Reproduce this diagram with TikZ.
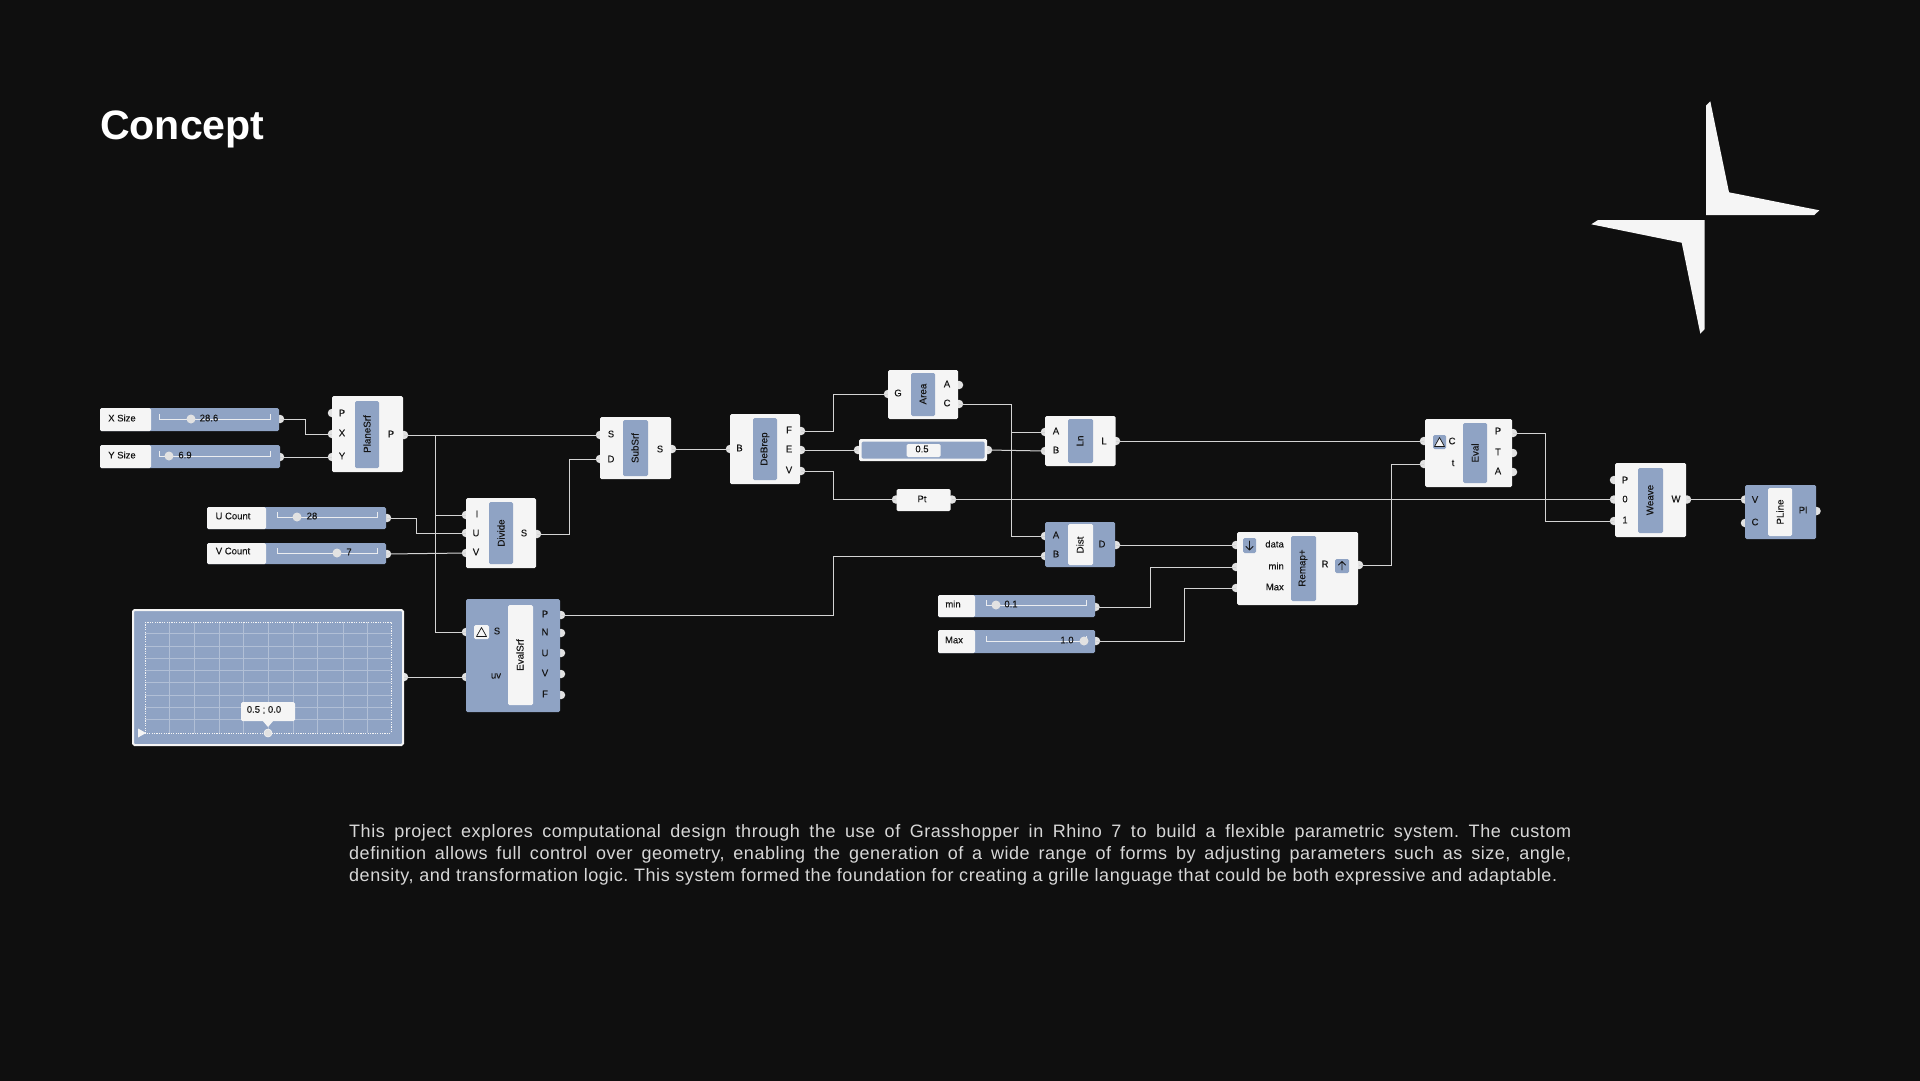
\documentclass[tikz,border=0pt]{standalone}
\usepackage{fontspec}
\setmainfont{Liberation Sans}
\newfontfamily\medfont[FakeBold=0.25]{Liberation Sans}
\newfontfamily\lightmed[FakeBold=0.12]{Liberation Sans}
\newfontfamily\bodyfont[LetterSpace=3]{Liberation Sans}
\newcommand\bodyline[2]{\hbox to #1{\frenchspacing\spaceskip=5.5pt plus 1fil minus 1fil\relax #2}}
\definecolor{bgc}{HTML}{0F0F0F}
\definecolor{paper}{HTML}{F5F5F5}
\definecolor{steel}{HTML}{8FA3C4}
\definecolor{ink}{HTML}{161616}
\definecolor{wirec}{HTML}{D4D4D4}
\definecolor{portc}{HTML}{E2E2E2}
\tikzset{
 x=1pt,y=-1pt,
 wire/.style={draw=wirec,line width=1pt},
 portdot/.style={circle,fill=portc,draw=none,minimum size=8.5pt,inner sep=0pt,outer sep=0pt},
 block/.style={rectangle,rounded corners=1.5pt,inner sep=0pt,outer sep=0pt,draw=none},
 lightblock/.style={block,fill=paper},
 darkblock/.style={block,fill=steel},
 lbl/.style={font=\lightmed\fontsize{9.5}{10}\selectfont,text=ink,inner sep=0pt},
 vlbl/.style={font=\medfont\fontsize{9.8}{10}\selectfont,text=ink,inner sep=0pt,rotate=90},
 track/.style={draw=paper!90!steel,line width=1pt},
 knob/.style={circle,fill=portc,draw=none,minimum size=9pt,inner sep=0pt},
 gridl/.style={draw=white!30!steel,line width=.6pt},
 iconbox/.style={block,fill=steel},
}
% \bx{name}{x1}{y1}{x2}{y2}{style}
\newcommand\bx[6]{\node[#6,minimum width={(#4-#2)*1pt},minimum height={(#5-#3)*1pt}] (#1) at ({(#2+#4)/2},{(#3+#5)/2}) {};}
\newcommand\prt[3]{\node[portdot] (#1) at (#2,#3) {};}
\newcommand\lb[4][lbl]{\node[#1] (#2) at (#3) {#4};}
\newcommand\hvh[3]{\coordinate (xm) at (#3,0); \draw[wire] (#1.center) -- (#1.center -| xm) -- (#2.center -| xm) -- (#2.center);}
% slider furniture: {name}{x1}{x2}{y}{knobx}{textx}{text}
\newcommand\sld[7]{
 \coordinate (#1l) at (#2,#4); \coordinate (#1r) at (#3,#4);
 \draw[track] (#2,#4-5) -- (#1l) -- (#1r) -- (#3,#4-5);
 \node[knob] (#1k) at (#5,#4) {};
 \node[lbl] (#1t) at (#6,#4-1) {#7};}
\begin{document}
\begin{tikzpicture}
\useasboundingbox (0,0) rectangle (1920,1080);
\fill[bgc] (-3,-3) rectangle (1923,1083);

\node[anchor=base west,inner sep=0pt,text=white,font=\bfseries\fontsize{41.1}{44}\selectfont] (title) at (100,139) {Concept};

% logo
\fill[paper] (1706,105.7) -- (1710.3,101.3) -- (1729,192.3) -- (1819.3,210.3) -- (1814.3,215) -- (1706,215) -- cycle;
\fill[paper] (1704.7,220) -- (1598,220) -- (1591.3,224.3) -- (1681.7,242.7) -- (1700.3,333.7) -- (1704.7,329) -- cycle;

% ports
\prt{xo}{280}{419}\prt{yo}{280}{457}\prt{uo}{387}{518}\prt{vo}{387}{554}
\prt{pP}{332}{413}\prt{pX}{332}{434}\prt{pY}{332}{457}\prt{pO}{404}{435}
\prt{dI}{466}{515}\prt{dU}{466}{533}\prt{dV}{466}{553}\prt{dO}{537}{534}
\prt{mdO}{404}{677}
\prt{eS}{466}{632}\prt{eUV}{466}{677}
\prt{eP}{561}{615}\prt{eN}{561}{633}\prt{eU}{561}{653}\prt{eV}{561}{674}\prt{eF}{561}{695}
\prt{sS}{600}{435}\prt{sD}{600}{459}\prt{sO}{672}{449}
\prt{bB}{730}{449}\prt{bF}{801}{431}\prt{bE}{801}{450}\prt{bV}{801}{471}
\prt{aG}{888}{394}\prt{aA}{959}{385}\prt{aC}{959}{404}
\prt{nI}{858}{450}\prt{nO}{988}{450}
\prt{tI}{896}{499.5}\prt{tO}{952}{499.5}
\prt{lA}{1045}{432}\prt{lB}{1045}{451}\prt{lO}{1116}{441}
\prt{tA}{1045}{536}\prt{tB}{1045}{556}\prt{tD}{1116}{545}
\prt{rD}{1236}{545}\prt{rMi}{1236}{567}\prt{rMa}{1236}{588}\prt{rO}{1359}{565}
\prt{mio}{1095.5}{607}\prt{mao}{1096}{641}
\prt{vC}{1424}{441}\prt{vT}{1424}{464}\prt{vP}{1513}{433}\prt{vTT}{1513}{453}\prt{vA}{1513}{472}
\prt{wP}{1614}{480}\prt{w0}{1614}{499.5}\prt{w1}{1614}{521}\prt{wO}{1687}{499.5}
\prt{qV}{1745}{499.5}\prt{qC}{1745}{523}\prt{qO}{1816.5}{511}

% wires
\hvh{xo}{pX}{305}
\draw[wire] (yo.center) -- (pY.center);
\draw[wire] (pO.center) -- (sS.center);
\coordinate (trunk) at (435,435);
\draw[wire] (trunk) -- (eS.center -| trunk) -- (eS.center);
\draw[wire] (dI.center -| trunk) -- (dI.center);
\hvh{uo}{dU}{416}
\draw[wire] (vo.center) -- (dV.center);
\hvh{dO}{sD}{569.5}
\draw[wire] (mdO.center) -- (eUV.center);
\draw[wire] (sO.center) -- (bB.center);
\hvh{bF}{aG}{833.5}
\draw[wire] (bE.center) -- (nI.center);
\hvh{bV}{tI}{833.5}
\draw[wire] (nO.center) -- (lB.center);
\hvh{aC}{tA}{1011.5}
\coordinate (cbus) at (1011.5,0);
\draw[wire] (lA.center -| cbus) -- (lA.center);
\draw[wire] (tO.center) -- (w0.center);
\hvh{eP}{tB}{833.5}
\draw[wire] (lO.center) -- (vC.center);
\draw[wire] (tD.center) -- (rD.center);
\hvh{mio}{rMi}{1150}
\hvh{mao}{rMa}{1184}
\hvh{rO}{vT}{1391}
\hvh{vP}{w1}{1545}
\draw[wire] (wO.center) -- (qV.center);

% sliders
\bx{xs}{100}{408}{279}{431}{darkblock}\bx{xsl}{100}{408}{151}{431}{lightblock}
\bx{ys}{100}{445}{280}{468}{darkblock}\bx{ysl}{100}{445}{151}{468}{lightblock}
\bx{us}{207}{507}{386}{529}{darkblock}\bx{usl}{207}{507}{266}{529}{lightblock}
\bx{vs}{207}{543}{386}{564}{darkblock}\bx{vsl}{207}{543}{266}{564}{lightblock}
\bx{mis}{938}{595}{1095}{617}{darkblock}\bx{misl}{938}{595}{975}{617}{lightblock}
\bx{mas}{938}{630}{1095}{653}{darkblock}\bx{masl}{938}{630}{975}{653}{lightblock}
\sld{sa}{159}{270}{419}{191}{209}{28.6}
\sld{sb}{159}{270}{456}{169}{185}{6.9}
\sld{sc}{277}{377}{517}{297}{312}{28}
\sld{sd}{277}{377}{553}{337}{349}{7}
\sld{se}{986}{1086}{605}{996}{1011}{0.1}
\sld{sf}{986}{1086}{641}{1084}{1067}{1.0}
\lb{xl}{122,418}{X Size}\lb{yl}{122,455}{Y Size}\lb{ul}{233,516}{U Count}\lb{vl}{233,551}{V Count}
\lb{mil}{953,604}{min}\lb{mal}{954,640}{Max}

% components
\bx{plane}{332}{396}{403}{472}{lightblock}\bx{planei}{355}{401}{379}{468}{darkblock}
\lb[vlbl]{planet}{367,434}{PlaneSrf}
\lb{p1}{342,413}{P}\lb{p2}{342,433}{X}\lb{p3}{342,456}{Y}\lb{p4}{391,434}{P}

\bx{div}{466}{498}{536}{568}{lightblock}\bx{divi}{489}{502}{513}{564}{darkblock}
\lb[vlbl]{divt}{501,533}{Divide}
\lb{d1}{477,514}{I}\lb{d2}{476,533}{U}\lb{d3}{476,552}{V}\lb{d4}{524,533}{S}

\bx{sub}{600}{417}{671}{479}{lightblock}\bx{subi}{623}{420}{648}{476}{darkblock}
\lb[vlbl]{subt}{635,448}{SubSrf}
\lb{s1}{611,434}{S}\lb{s2}{611,459}{D}\lb{s3}{660,449}{S}

\bx{deb}{730}{414}{800}{484}{lightblock}\bx{debi}{753}{418}{777}{480}{darkblock}
\lb[vlbl]{debt}{765,449}{DeBrep}
\lb{b1}{739.5,448}{B}\lb{b2}{789,430}{F}\lb{b3}{789,449}{E}\lb{b4}{789,470}{V}

\bx{area}{888}{370}{958}{419}{lightblock}\bx{areai}{911}{373}{935}{416}{darkblock}
\lb[vlbl]{areat}{923,394}{Area}
\lb{a1}{898,393}{G}\lb{a2}{947,384}{A}\lb{a3}{947,403}{C}

\bx{pan}{859}{439}{987}{461}{lightblock}\bx{pani}{861.5}{441.5}{984.5}{458.5}{darkblock}\bx{panv}{906.5}{444}{940.5}{457}{lightblock}
\lb{pant}{922,449}{0.5}

\bx{pt}{896.5}{489}{950.5}{511}{lightblock}
\lb{ptt}{922,499}{Pt}

\bx{ln}{1045}{416}{1115.5}{466}{lightblock}\bx{lni}{1068}{419}{1093}{463}{darkblock}
\lb[vlbl]{lnt}{1080,441}{Ln}
\lb{l1}{1056,431}{A}\lb{l2}{1056,450}{B}\lb{l3}{1104,441}{L}

\bx{dist}{1045}{522}{1115}{567}{darkblock}\bx{disti}{1068}{524}{1093}{565}{lightblock}
\lb[vlbl]{distt}{1080,545}{Dist}
\lb{t1}{1056,535}{A}\lb{t2}{1056,554}{B}\lb{t3}{1102,544}{D}

\bx{rem}{1237}{532}{1358}{605}{lightblock}\bx{remi}{1291}{536}{1316}{601}{darkblock}
\lb[vlbl]{remt}{1303,568}{Remap+}
\node[lbl,anchor=east] (r1) at (1284,544) {data};
\node[lbl,anchor=east] (r2) at (1284,566) {min};
\node[lbl,anchor=east] (r3) at (1284,587) {Max};
\lb{r4}{1325,564}{R}
\bx{ricd}{1243}{538}{1256}{553}{iconbox}\bx{ricu}{1335}{559}{1349}{573}{iconbox}
\draw[ink,line width=.9pt,line cap=round,line join=round] (1249.5,541) -- (1249.5,550) (1246,546.5) -- (1249.5,550) -- (1253,546.5);
\draw[ink,line width=.9pt,line cap=round,line join=round] (1342,570) -- (1342,561.5) (1338.5,565) -- (1342,561.5) -- (1345.5,565);

\bx{ev}{1425}{419}{1512}{487}{lightblock}\bx{evi}{1463}{423}{1487}{483}{darkblock}
\lb[vlbl]{evt}{1475,453}{Eval}
\bx{evc}{1433}{435}{1446}{449}{iconbox}
\draw[ink,fill=paper,line width=.7pt,line join=round] (1439.5,437.5) -- (1444.5,446.5) -- (1434.5,446.5) -- cycle;
\lb{v1}{1452,441}{C}\lb{v2}{1453,463}{t}\lb{v3}{1498,431}{P}\lb{v4}{1498,452}{T}\lb{v5}{1498,471}{A}

\bx{wea}{1615}{463}{1686}{537}{lightblock}\bx{weai}{1638}{468}{1663}{533}{darkblock}
\lb[vlbl]{weat}{1650,500}{Weave}
\lb{w1t}{1625,480}{P}\lb{w2t}{1625,499}{0}\lb{w3t}{1625,520}{1}\lb{w4t}{1676,499}{W}

\bx{pli}{1745}{485}{1816}{539}{darkblock}\bx{plii}{1768}{488}{1792}{536}{lightblock}
\lb[vlbl]{plit}{1780,512}{PLine}
\lb{q1}{1755,499.5}{V}\lb{q2}{1755,522}{C}\lb{q3}{1803,510}{Pl}

\bx{evs}{466}{599}{560}{712}{darkblock}\bx{evsi}{508}{605}{533}{705}{lightblock}
\lb[vlbl]{evst}{520,655}{EvalSrf}
\bx{evsc}{474}{625}{489}{639}{lightblock}
\draw[ink,line width=.7pt,line join=round] (481.5,627.5) -- (486.5,636.5) -- (476.5,636.5) -- cycle;
\lb{e0}{497,631}{S}\lb{e1}{496,676}{uv}
\lb{e2}{545,614}{P}\lb{e3}{545,632}{N}\lb{e4}{545,653}{U}\lb{e5}{545,673}{V}\lb{e6}{545,694}{F}

% MD slider
\bx{md}{133}{610}{403}{745}{block,fill=steel,draw=paper,line width=2pt}
\foreach \gx in {169,194,219,243,268,293,317,343,367} \draw[gridl] (\gx,622) -- (\gx,733);
\foreach \gy in {633,646,658,670,682,695,707,719} \draw[gridl] (145,\gy) -- (391,\gy);
\draw[paper,line width=.8pt,dash pattern=on 1.2pt off 1.2pt] (145,622) rectangle (391,733);
\fill[paper] (138,728.5) -- (146,733) -- (138,737.5) -- cycle;
\node[circle,fill=portc,draw=paper,line width=.6pt,minimum size=8pt,inner sep=0pt] (mdk) at (268,733) {};
\fill[paper,rounded corners=1.5pt] (241,702) rectangle (295,721);
\fill[paper] (262,720) -- (268,727) -- (274,720) -- cycle;
\lb{mdt}{264,710}{0.5 ; 0.0}

% body text
\node[anchor=north west,inner sep=0pt,text=paper!88!black,text width=1222pt,font=\bodyfont\fontsize{18}{22}\selectfont] (body) at (349,824.5)
{\bodyline{1222pt}{This project explores computational design through the use of Grasshopper in Rhino 7 to build a flexible parametric system. The custom}
\bodyline{1222pt}{definition allows full control over geometry, enabling the generation of a wide range of forms by adjusting parameters such as size, angle,}
\bodyline{1208pt}{density, and transformation logic. This system formed the foundation for creating a grille language that could be both expressive and adaptable.}};
\end{tikzpicture}
\end{document}
